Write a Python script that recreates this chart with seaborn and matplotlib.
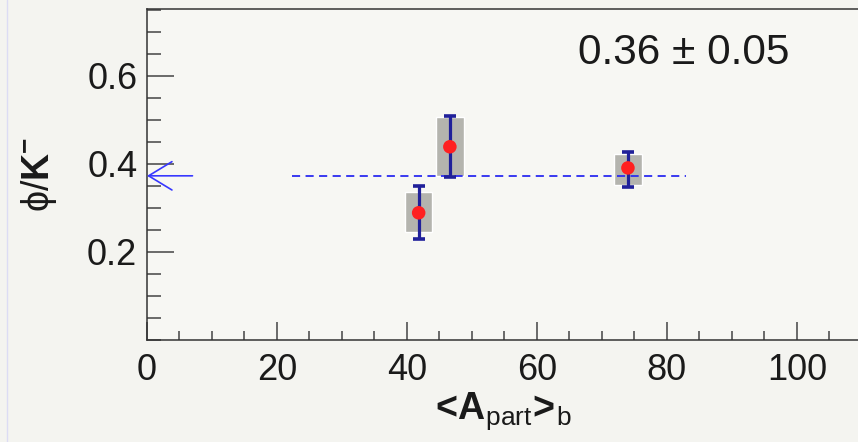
import matplotlib
matplotlib.use("Agg")
import matplotlib.pyplot as plt
from matplotlib.lines import Line2D
import seaborn as sns
import numpy as np
import pandas as pd
from matplotlib.ticker import MultipleLocator

# ---- data ----
npart = [41.8, 46.6, 74.0]
ratio = [0.289, 0.439, 0.391]
stat_lo = [0.230, 0.370, 0.348]
stat_hi = [0.350, 0.509, 0.427]
sys_lo = [0.245, 0.373, 0.352]
sys_hi = [0.336, 0.507, 0.423]
fit_mean = 0.373
fit_range = [22.3, 82.9]
result_text = "0.36 ± 0.05"

df = pd.DataFrame({"npart": npart, "ratio": ratio})

sns.set_theme(style="ticks")
plt.rcParams["font.family"] = ["Liberation Sans", "DejaVu Sans"]
plt.rcParams["mathtext.fontset"] = "custom"
plt.rcParams["mathtext.rm"] = "Liberation Sans"
plt.rcParams["mathtext.it"] = "Liberation Sans"
plt.rcParams["mathtext.bf"] = "Liberation Sans:bold"

bg = "#f4f4f0"
fig = plt.figure(figsize=(8.58, 4.42), dpi=100, facecolor=bg)
fig.add_artist(Line2D([6.5/858, 6.5/858], [0, 1], transform=fig.transFigure,
                      color="#dcdcf4", lw=1.0))
ax = fig.add_axes([147/858, 1-340/442, 1-147/858, (340-9)/442])
ax.set_facecolor("#f7f7f3")

# systematic boxes
heights = [h - l for h, l in zip(sys_hi, sys_lo)]
ax.bar(npart, heights, bottom=sys_lo, width=4.2, color="#b4b4ae", zorder=2)

# statistical error bars
yerr = np.array([[r - l for r, l in zip(ratio, stat_lo)],
                 [h - r for r, h in zip(ratio, stat_hi)]])
ax.errorbar(npart, ratio, yerr=yerr, fmt="none", ecolor="#20209a",
            elinewidth=2.3, capsize=4.5, capthick=2.6, zorder=3)

# fit line
ax.plot(fit_range, [fit_mean, fit_mean], color="#2b2bf0", lw=1.3,
        ls=(0, (4.5, 3)), zorder=2.5)

sns.scatterplot(data=df, x="npart", y="ratio", ax=ax, color="#ff2020",
                s=95, edgecolor="none", zorder=4, legend=False)

# arrow at mean
ax.annotate("", xy=(0, fit_mean), xytext=(7, fit_mean),
            arrowprops=dict(arrowstyle="->,head_length=1.4,head_width=0.85",
                            color="#3838ff", lw=1.2, shrinkA=0, shrinkB=0),
            zorder=5)

ax.text(82.6, 0.651, result_text, fontsize=30.5, ha="center", va="center",
        color="#1a1a1a")

ax.set_xlim(0, 109.4)
ax.set_ylim(0, 0.752)
ax.xaxis.set_major_locator(MultipleLocator(20))
ax.xaxis.set_minor_locator(MultipleLocator(5))
ax.yaxis.set_minor_locator(MultipleLocator(0.05))
ax.set_yticks([0.2, 0.4, 0.6])
ax.set_yticklabels(["0.2", "0.4", "0.6"])

ax.tick_params(axis="y", which="major", direction="in", length=19.5, width=1.1,
               color="#444444", labelsize=26, labelcolor="#1a1a1a", pad=7)
ax.tick_params(axis="y", which="minor", direction="in", length=10, width=1.1,
               color="#444444")
ax.tick_params(axis="x", which="major", direction="in", length=13, width=1.1,
               color="#444444", labelsize=26, labelcolor="#1a1a1a", pad=9)
ax.tick_params(axis="x", which="minor", direction="in", length=6.5, width=1.1,
               color="#444444")

for side in ["left", "bottom", "top"]:
    ax.spines[side].set_color("#333333")
    ax.spines[side].set_linewidth(1.1)
ax.spines["right"].set_visible(False)

ax.set_xlabel(r"$\mathbf{\!<\!A}_{\mathrm{part}}\mathbf{\!>\!}_{\mathrm{b}}$",
              fontsize=27, color="#1a1a1a", labelpad=2)
ax.set_ylabel(r"$\phi$/$\mathbf{K}^{\mathbf{-}}$", fontsize=27,
              color="#1a1a1a", labelpad=20)

fig.savefig("out.png", dpi=100, facecolor=bg)
